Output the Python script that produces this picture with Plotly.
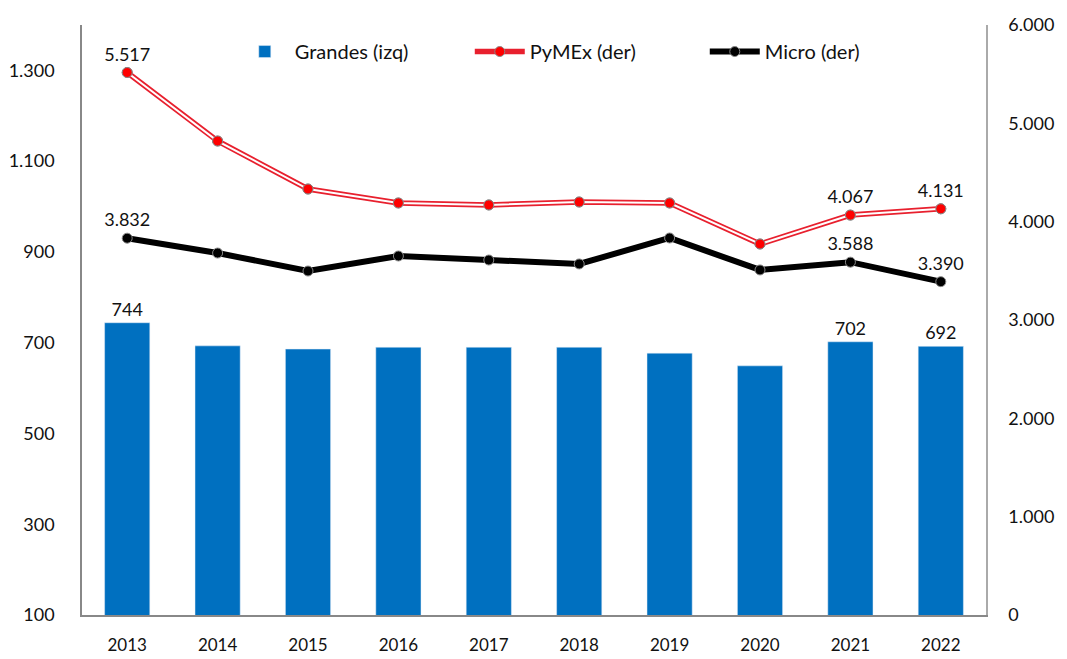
import plotly.graph_objects as go

years = ["2013", "2014", "2015", "2016", "2017", "2018", "2019", "2020", "2021", "2022"]
grandes = [744, 693, 686, 690, 690, 690, 677, 649, 702, 692]
pymex = [5517, 4820, 4332, 4190, 4170, 4200, 4190, 3773, 4067, 4131]
micro = [3832, 3681, 3498, 3651, 3610, 3570, 3834, 3509, 3588, 3390]

grandes_lbl = ["744", "", "", "", "", "", "", "", "702", "692"]
pymex_lbl = ["5.517", "", "", "", "", "", "", "", "4.067", "4.131"]
micro_lbl = ["3.832", "", "", "", "", "", "", "", "3.588", "3.390"]

FONT = "Lato"
fig = go.Figure()

fig.add_trace(go.Bar(
    x=years, y=grandes, name="Grandes (izq)", marker_color="#0070C0",
    width=0.5, text=grandes_lbl, textposition="outside", cliponaxis=False,
    textfont=dict(size=18, color="#111"), yaxis="y",
))
fig.add_trace(go.Scatter(
    x=years, y=pymex, name="PyMEx (der)", mode="lines+markers+text",
    line=dict(color="#E8202E", width=5.5), marker=dict(color="#FF0000", size=10, line=dict(color="#888", width=1)),
    text=pymex_lbl, textposition="top center", textfont=dict(size=18, color="#111"),
    yaxis="y2", legendgroup="p", cliponaxis=False,
))
fig.add_trace(go.Scatter(
    x=years, y=pymex, mode="lines", showlegend=False,
    line=dict(color="white", width=2), yaxis="y2", legendgroup="p", hoverinfo="skip",
))
fig.add_trace(go.Scatter(
    x=years, y=pymex, mode="markers", showlegend=False,
    marker=dict(color="#FF0000", size=10, line=dict(color="#888", width=1)),
    yaxis="y2", legendgroup="p", hoverinfo="skip",
))
fig.add_trace(go.Scatter(
    x=years, y=micro, name="Micro (der)", mode="lines+markers+text",
    line=dict(color="black", width=6), marker=dict(color="black", size=10, line=dict(color="#888", width=1)),
    text=micro_lbl, textposition="top center", textfont=dict(size=18, color="#111"),
    yaxis="y2", cliponaxis=False,
))

fig.update_layout(
    width=1067, height=659,
    margin=dict(l=82, r=81, t=25, b=44, autoexpand=False),
    paper_bgcolor="white", plot_bgcolor="white",
    separators=",.",
    font=dict(family=FONT, size=18, color="#111"),
    bargap=0.5,
    showlegend=True,
    legend=dict(orientation="h", x=0.169, y=0.955, xanchor="left", yanchor="middle",
                font=dict(size=20, family=FONT), bgcolor="rgba(0,0,0,0)",
                entrywidth=170, entrywidthmode="pixels", itemwidth=50),
    xaxis=dict(range=[-0.5, 9.5], showline=True, linecolor="#888", linewidth=1.5, showgrid=False,
               automargin=False, ticks="", ticklabelstandoff=14, tickfont=dict(size=17)),
    yaxis=dict(range=[100, 1400], tick0=100, dtick=200, showgrid=False, zeroline=False,
               showline=True, linecolor="#888", linewidth=1.5, ticks="", automargin=False,
               ticklabelstandoff=22, tickformat=",d", tickfont=dict(size=18)),
    yaxis2=dict(range=[0, 6000], dtick=1000, overlaying="y", side="right", showgrid=False,
                zeroline=False, showline=True, linecolor="#aaa", linewidth=1.5, ticks="", automargin=False,
                ticklabelstandoff=17, tickformat=",d", tickfont=dict(size=18)),
)

fig.write_html("out.html", config={"displayModeBar": False},
               post_script="document.body.style.margin='0';document.body.style.overflow='hidden';")
